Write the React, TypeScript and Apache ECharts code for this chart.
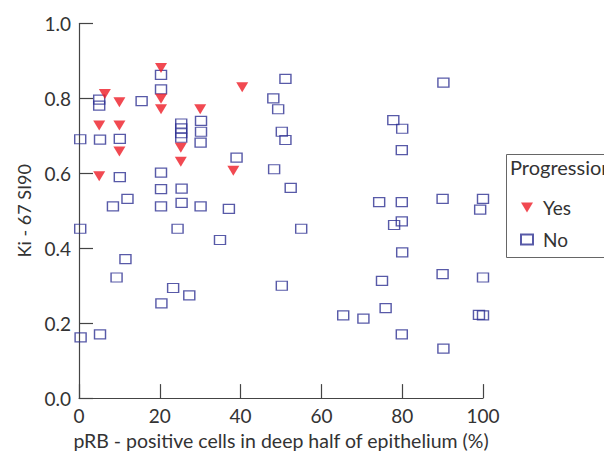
import React, { useEffect, useRef } from "react";
import * as echarts from "echarts";

const xTitle = "pRB - positive cells in deep half of epithelium (%)";
const yTitle = "Ki - 67 SI90";
const legendTitle = "Progression";
const seriesNames = ["Yes", "No"];

const yesX = [5, 5, 6.4, 10, 10, 10, 20.3, 20.3, 20.3, 25.2, 25.2, 30, 38.2, 40.4];
const yesY = [0.592, 0.728, 0.812, 0.79, 0.728, 0.658, 0.881, 0.799, 0.771, 0.668, 0.631, 0.771, 0.607, 0.83];

const noX = [
  5, 5, 15.5, 20.3, 20.3, 0.3, 5.2, 10.1, 25.3, 25.3, 25.3, 25.3, 30.2, 30.2, 30.1,
  10.1, 20.3, 20.3, 25.4, 12, 8.4, 20.3, 25.4, 30.1, 0.3, 24.4, 11.5, 9.3, 20.4, 23.3,
  27.3, 0.4, 5.2, 51.1, 48.1, 49.3, 50.2, 51.1, 39, 48.3, 52.4, 37.1, 55, 34.9, 50.2,
  65.4, 90.2, 77.8, 80, 79.9, 74.3, 79.9, 90, 100, 99.3, 79.9, 78, 80, 75, 90,
  100, 70.4, 75.9, 99, 100, 79.9, 90.2
];
const noY = [
  0.797, 0.781, 0.793, 0.863, 0.824, 0.691, 0.69, 0.692, 0.733, 0.72, 0.707, 0.695, 0.74, 0.711, 0.682,
  0.59, 0.602, 0.558, 0.559, 0.532, 0.512, 0.512, 0.521, 0.512, 0.452, 0.452, 0.371, 0.322, 0.253, 0.294,
  0.274, 0.162, 0.17, 0.852, 0.8, 0.771, 0.711, 0.689, 0.642, 0.611, 0.561, 0.505, 0.452, 0.422, 0.3,
  0.221, 0.842, 0.742, 0.719, 0.662, 0.523, 0.523, 0.532, 0.532, 0.503, 0.472, 0.462, 0.389, 0.313, 0.331,
  0.322, 0.212, 0.24, 0.222, 0.221, 0.17, 0.132
];

const FONT = "Lato, 'DejaVu Sans', sans-serif";
const TEXT = "#333";
const AXIS = "#444";

export default function App() {
  const ref = useRef<HTMLDivElement>(null);
  useEffect(() => {
    if (!ref.current) return;
    const chart = echarts.init(ref.current, null, { renderer: "svg" });
    const yesData = yesX.map((x, i) => [x, yesY[i]]);
    const noData = noX.map((x, i) => [x, noY[i]]);
    chart.setOption({
      animation: false,
      backgroundColor: "#fff",
      textStyle: { fontFamily: FONT },
      grid: { left: 79, top: 23.5, right: 121, bottom: 56, containLabel: false },
      xAxis: {
        type: "value",
        min: 0,
        max: 100,
        interval: 20,
        name: xTitle,
        nameLocation: "middle",
        nameGap: 31,
        nameTextStyle: { fontSize: 19.5, color: TEXT, fontFamily: FONT },
        axisLine: { show: true, lineStyle: { color: AXIS, width: 1.2 } },
        axisTick: { show: true, inside: true, length: 14, lineStyle: { color: AXIS, width: 1.2 } },
        axisLabel: { fontSize: 19, color: TEXT, margin: 8, fontFamily: FONT },
        splitLine: { show: false },
      },
      yAxis: {
        type: "value",
        min: 0,
        max: 1,
        interval: 0.2,
        name: yTitle,
        nameLocation: "middle",
        nameGap: 46,
        nameRotate: 90,
        nameTextStyle: { fontSize: 18, color: TEXT, fontFamily: FONT },
        axisLine: { show: true, lineStyle: { color: AXIS, width: 1.2 } },
        axisTick: { show: true, inside: true, length: 14, lineStyle: { color: AXIS, width: 1.2 } },
        axisLabel: {
          fontSize: 19,
          color: TEXT,
          margin: 8,
          fontFamily: FONT,
          formatter: (v: number) => v.toFixed(1),
        },
        splitLine: { show: false },
      },
      legend: {
        orient: "vertical",
        left: 515,
        top: 193,
        itemWidth: 12,
        itemHeight: 10,
        itemGap: 13,
        data: seriesNames,
        textStyle: { fontSize: 19, color: TEXT, fontFamily: FONT, padding: [0, 0, 0, 5] },
      },
      graphic: [
        {
          type: "rect",
          left: 504,
          top: 152,
          shape: { width: 130, height: 103 },
          style: { fill: "none", stroke: "#666", lineWidth: 1 },
          silent: true,
        },
        {
          type: "text",
          left: 510,
          top: 157,
          style: { text: legendTitle, fontSize: 20, fill: TEXT, fontFamily: FONT },
          silent: true,
        },
      ],
      series: [
        {
          name: "No",
          type: "scatter",
          data: noData,
          symbol: "rect",
          symbolSize: [11, 9],
          itemStyle: { color: "rgba(255,255,255,0)", borderColor: "#2e3192", borderWidth: 1.3 },
          z: 2,
        },
        {
          name: "Yes",
          type: "scatter",
          data: yesData,
          symbol: "path://M0 0L12 0L6 10Z",
          symbolSize: [12, 10],
          itemStyle: { color: "#ee1c25" },
          z: 3,
        },
      ],
    });
    return () => chart.dispose();
  }, []);
  return (
    <div
      ref={ref}
      style={{ position: "fixed", left: 0, top: 0, width: 604, height: 455, overflow: "hidden" }}
    />
  );
}
